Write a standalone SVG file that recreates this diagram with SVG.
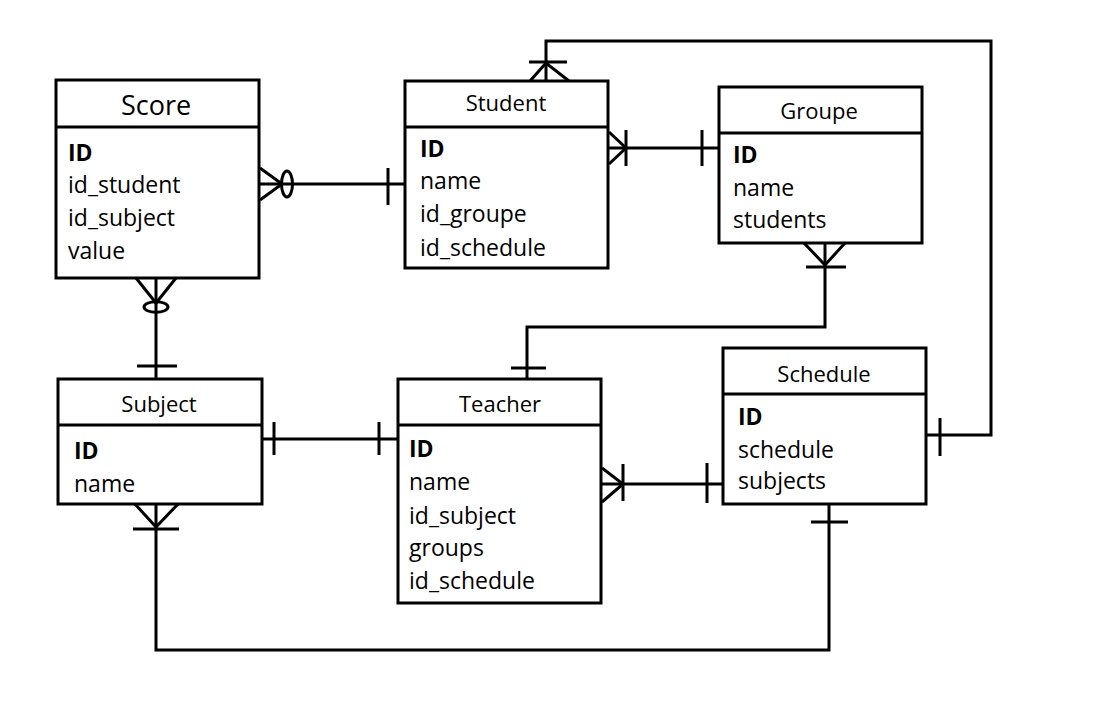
<svg xmlns="http://www.w3.org/2000/svg" width="1116" height="716" viewBox="0 0 1116 716">
<style>
.box{fill:#fff;stroke:#000;stroke-width:3}
.ln{fill:none;stroke:#000;stroke-width:3}
.t{font-family:"Open Sans","Noto Sans",sans-serif;font-size:23px;fill:#000}
.h{font-family:"Open Sans","Noto Sans",sans-serif;font-size:22px;fill:#000;text-anchor:middle}
.b{font-weight:bold}
</style>
<rect width="1116" height="716" fill="#fff"/>
<g id="connectors" class="ln">
  <!-- Score - Student -->
  <path d="M259,184 H405"/>
  <path d="M260,168 L282,184 L260,200"/>
  <ellipse cx="287" cy="184" rx="5.5" ry="13"/>
  <path d="M388,168 V205"/>
  <!-- Score - Subject -->
  <path d="M156,278 V379"/>
  <path d="M136,278 L156,303 L176,278"/>
  <ellipse cx="156" cy="307" rx="12" ry="5.3"/>
  <path d="M137,366 H177"/>
  <!-- Student - Groupe -->
  <path d="M608,148 H719"/>
  <path d="M609,132 L626,148 L609,164"/>
  <path d="M626,130 V166"/>
  <path d="M702,130 V166"/>
  <!-- Student - Schedule -->
  <path d="M546,81 V41 H991 V435 H926"/>
  <path d="M530,81 L546,63 L569,81"/>
  <path d="M529,62 H567"/>
  <path d="M940,418 V456"/>
  <!-- Groupe - Teacher -->
  <path d="M825,243 V327 H527 V379"/>
  <path d="M804,243 L825,265 L845,243"/>
  <path d="M806,267 H846"/>
  <path d="M511,368 H546"/>
  <!-- Subject - Teacher -->
  <path d="M262,439 H398"/>
  <path d="M274,422 V455"/>
  <path d="M379,422 V455"/>
  <!-- Teacher - Schedule -->
  <path d="M601,484 H723"/>
  <path d="M602,468 L623,484 L602,502"/>
  <path d="M623,464 V501"/>
  <path d="M707,463 V503"/>
  <!-- Schedule - Subject -->
  <path d="M829,504 V650 H156 V504"/>
  <path d="M811,522 H848"/>
  <path d="M135,504 L156,527 L178,504"/>
  <path d="M133,529 H179"/>
</g>
<g id="score">
  <rect class="box" x="56" y="80" width="203" height="198"/>
  <path class="ln" d="M56,127 H259"/>
  <text class="h" x="156" y="115" style="font-size:27px">Score</text>
  <text class="t b" x="68" y="161">ID</text>
  <text class="t" x="68" y="193">id_student</text>
  <text class="t" x="68" y="226">id_subject</text>
  <text class="t" x="68" y="259">value</text>
</g>
<g id="student">
  <rect class="box" x="405" y="81" width="203" height="187"/>
  <path class="ln" d="M405,127 H608"/>
  <text class="h" x="506" y="111">Student</text>
  <text class="t b" x="420" y="157">ID</text>
  <text class="t" x="420" y="189">name</text>
  <text class="t" x="420" y="222">id_groupe</text>
  <text class="t" x="420" y="256">id_schedule</text>
</g>
<g id="groupe">
  <rect class="box" x="719" y="87" width="203" height="156"/>
  <path class="ln" d="M719,133 H922"/>
  <text class="h" x="819" y="119">Groupe</text>
  <text class="t b" x="733" y="163">ID</text>
  <text class="t" x="733" y="196">name</text>
  <text class="t" x="733" y="228">students</text>
</g>
<g id="subject">
  <rect class="box" x="58" y="379" width="204" height="125"/>
  <path class="ln" d="M58,425 H262"/>
  <text class="h" x="159" y="412">Subject</text>
  <text class="t b" x="74" y="459">ID</text>
  <text class="t" x="74" y="492">name</text>
</g>
<g id="teacher">
  <rect class="box" x="398" y="379" width="203" height="224"/>
  <path class="ln" d="M398,425 H601"/>
  <text class="h" x="500" y="412">Teacher</text>
  <text class="t b" x="409" y="457">ID</text>
  <text class="t" x="409" y="490">name</text>
  <text class="t" x="409" y="524">id_subject</text>
  <text class="t" x="409" y="556">groups</text>
  <text class="t" x="409" y="589">id_schedule</text>
</g>
<g id="schedule">
  <rect class="box" x="723" y="348" width="203" height="156"/>
  <path class="ln" d="M723,394 H926"/>
  <text class="h" x="824" y="382">Schedule</text>
  <text class="t b" x="738" y="425">ID</text>
  <text class="t" x="738" y="458">schedule</text>
  <text class="t" x="738" y="489">subjects</text>
</g>
</svg>
